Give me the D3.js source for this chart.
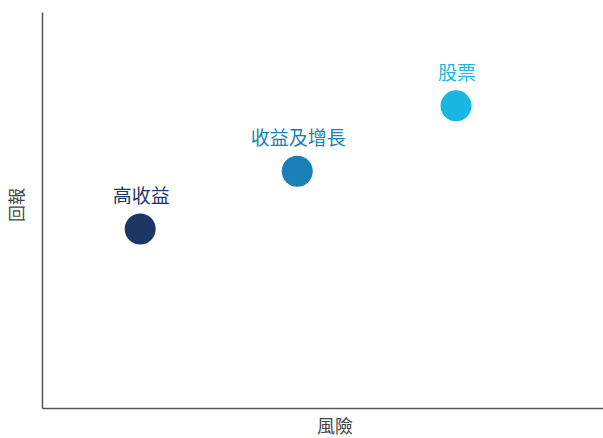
<!DOCTYPE html>
<html>
<head>
<meta charset="utf-8">
<script src="https://cdn.jsdelivr.net/npm/d3@7"></script>
<style>
  html, body { margin: 0; padding: 0; background: #fff; }
  svg { display: block; }
  text { font-family: "Noto Sans CJK TC", "Noto Sans", sans-serif; }
</style>
</head>
<body>
<svg id="chart" width="603" height="438"></svg>
<script>
// Asset classes plotted on a risk / return plane
const categories = ["高收益", "收益及增長", "股票"];
const riskValues = [1.75, 4.55, 7.38];
const returnValues = [4.52, 5.98, 7.63];
const colors = ["#1c3764", "#1880b6", "#18b8e3"];
const xAxisTitle = "風險";
const yAxisTitle = "回報";

const points = categories.map((c, i) => ({
  name: c, risk: riskValues[i], ret: returnValues[i], color: colors[i]
}));

const svg = d3.select("#chart");
const plot = { left: 42, right: 603, top: 12, bottom: 408 };

const x = d3.scaleLinear().domain([0, 10]).range([plot.left, plot.right]);
const y = d3.scaleLinear().domain([0, 10]).range([plot.bottom, plot.top]);

// Axes without ticks: plain lines along the left and bottom
svg.append("g")
  .attr("transform", `translate(${plot.left},0)`)
  .call(d3.axisLeft(y).tickValues([]).tickSizeOuter(0))
  .call(g => g.select(".domain").attr("stroke", "#555").attr("stroke-width", 1.5));

svg.append("g")
  .attr("transform", `translate(0,${plot.bottom})`)
  .call(d3.axisBottom(x).tickValues([]).tickSizeOuter(0))
  .call(g => g.select(".domain").attr("stroke", "#555").attr("stroke-width", 1.5));

// Axis titles
svg.append("text")
  .attr("x", 335).attr("y", 433)
  .attr("text-anchor", "middle")
  .attr("font-size", 18)
  .attr("fill", "#444")
  .text(xAxisTitle);

svg.append("text")
  .attr("transform", "translate(23,205) rotate(-90)")
  .attr("text-anchor", "middle")
  .attr("font-size", 17)
  .attr("fill", "#444")
  .text(yAxisTitle);

// Points
svg.selectAll("circle.pt")
  .data(points)
  .join("circle")
  .attr("class", "pt")
  .attr("cx", d => x(d.risk))
  .attr("cy", d => y(d.ret))
  .attr("r", 15.5)
  .attr("fill", d => d.color);

// Labels above each point
svg.selectAll("text.lbl")
  .data(points)
  .join("text")
  .attr("class", "lbl")
  .attr("x", d => x(d.risk) + 1)
  .attr("y", d => y(d.ret) - 26)
  .attr("text-anchor", "middle")
  .attr("font-size", 19)
  .attr("fill", d => d.color)
  .text(d => d.name);
</script>
</body>
</html>
